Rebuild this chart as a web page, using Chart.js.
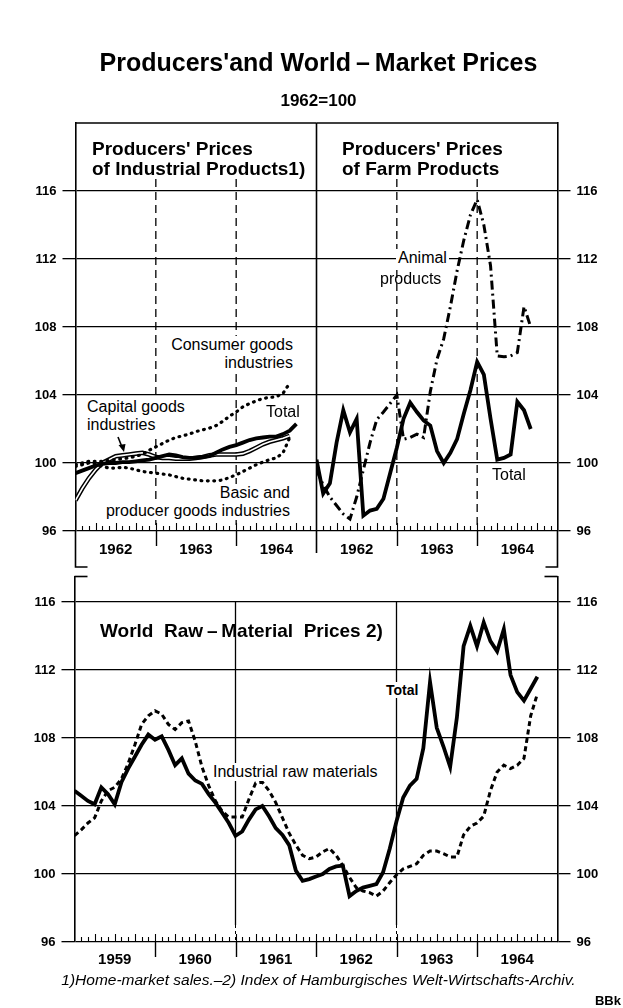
<!DOCTYPE html>
<html>
<head>
<meta charset="utf-8">
<title>Producers' and World-Market Prices</title>
<script src="https://cdn.jsdelivr.net/npm/chart.js@4.4.0/dist/chart.umd.min.js"></script>
<style>
  html, body { margin: 0; padding: 0; background: #fff; }
  #page { position: relative; width: 623px; height: 1008px; overflow: hidden;
          font-family: "Liberation Sans", Arial, sans-serif; color: #000; }
  #page canvas { position: absolute; left: 0; top: 0; }
  .t { position: absolute; white-space: nowrap; line-height: 1; transform: translateY(-50%); }
  .b { font-weight: bold; }
  .n { font-size: 16px; }
  .w { background: #fff; padding: 1px 2px; }
</style>
</head>
<body>
<div id="page">
  <canvas id="cIndustrial" width="623" height="1008"></canvas>
  <canvas id="cFarm" width="623" height="1008"></canvas>
  <canvas id="cWorld" width="623" height="1008"></canvas>

  <!-- titles -->
  <div class="t b" style="left:7px;width:623px;text-align:center;top:62px;font-size:25px">Producers'and World&thinsp;–&thinsp;Market Prices</div>
  <div class="t b" style="left:7px;width:623px;text-align:center;top:100px;font-size:17px">1962=100</div>

  <div class="t b" style="left:92px;top:148px;font-size:19px">Producers' Prices</div>
  <div class="t b" style="left:92px;top:168px;font-size:19px">of Industrial Products1)</div>
  <div class="t b" style="left:342px;top:148px;font-size:19px">Producers' Prices</div>
  <div class="t b" style="left:342px;top:168px;font-size:19px">of Farm Products</div>

  <!-- industrial panel notes -->
  <div class="t n w" style="right:328px;top:345px">Consumer goods</div>
  <div class="t n w" style="right:328px;top:363px">industries</div>
  <div class="t n" style="left:266px;top:412px">Total</div>
  <div class="t n w" style="left:85px;top:407px">Capital goods</div>
  <div class="t n w" style="left:85px;top:425px">industries</div>
  <svg style="position:absolute;left:110px;top:432px" width="20" height="24">
    <path d="M8 5 L12 15" stroke="#000" stroke-width="1.6" fill="none"/>
    <path d="M8.5 13 L15.5 12 L14 20 Z" fill="#000"/>
  </svg>
  <div class="t n w" style="right:331px;top:493px">Basic and</div>
  <div class="t n w" style="right:331px;top:511px">producer goods industries</div>

  <!-- farm panel notes -->
  <div class="t n w" style="left:396px;top:258px">Animal</div>
  <div class="t n" style="left:380px;top:279px">products</div>
  <div class="t n" style="left:492px;top:475px">Total</div>

  <!-- world panel notes -->
  <div class="t b" style="left:100px;top:630px;font-size:19px">World&nbsp; Raw&thinsp;–&thinsp;Material&nbsp; Prices 2)</div>
  <div class="t b w" style="left:384px;top:690px;font-size:14px">Total</div>
  <div class="t n w" style="left:211px;top:772px">Industrial raw materials</div>

  <div class="t" style="left:7px;width:623px;text-align:center;top:980px;font-size:15.5px;font-style:italic">1)Home-market sales.–2) Index of Hamburgisches Welt-Wirtschafts-Archiv.</div>
  <div class="t b" style="right:2px;top:1000px;font-size:13px">BBk</div>
</div>

<script>
const FONT = '"Liberation Sans", Arial, sans-serif';

// axes
const yTicks = [96, 100, 104, 108, 112, 116];
const topYears = ['1962', '1963', '1964'];
const worldYears = ['1959', '1960', '1961', '1962', '1963', '1964'];

// Producers' prices of industrial products, monthly from Jan 1962
const indTotal = [99.4, 99.55, 99.7, 99.85, 99.95, 100.0, 100.0, 100.05, 100.05, 100.1, 100.15, 100.2,
  100.3, 100.4, 100.5, 100.45, 100.35, 100.3, 100.3, 100.35, 100.4, 100.6, 100.8, 100.95,
  101.05, 101.2, 101.35, 101.45, 101.5, 101.55, 101.55, 101.7, 101.9, 102.3];
const indConsumer = [99.9, 100.0, 100.1, 100.1, 100.1, 100.15, 100.2, 100.25, 100.3, 100.4, 100.5, 100.75,
  100.95, 101.15, 101.35, 101.5, 101.6, 101.7, 101.85, 101.95, 102.05, 102.2, 102.45, 102.75,
  103.0, 103.3, 103.5, 103.65, 103.8, 103.85, 103.9, 104.1, 104.7];
const indBasic = [99.8, 99.9, 100.0, 99.95, 99.8, 99.7, 99.7, 99.75, 99.7, 99.6, 99.5, 99.45,
  99.4, 99.35, 99.3, 99.2, 99.1, 99.05, 99.0, 98.95, 98.95, 98.95, 99.0, 99.15,
  99.3, 99.5, 99.7, 99.9, 100.05, 100.2, 100.3, 100.6, 101.5];
const indCapital = [97.8, 98.5, 99.1, 99.6, 100.0, 100.2, 100.4, 100.45, 100.5, 100.55, 100.6, 100.5,
  100.35, 100.3, 100.3, 100.25, 100.25, 100.25, 100.3, 100.35, 100.45, 100.5, 100.5, 100.5,
  100.5, 100.55, 100.7, 100.9, 101.1, 101.25, 101.35, 101.45, 101.6];

// Producers' prices of farm products, monthly from Jan 1962
const farmTotal = [100.2, 98.2, 98.8, 101.2, 103.1, 101.8, 102.6, 96.9, 97.2, 97.3, 97.9, 99.4,
  100.9, 102.6, 103.55, 103.0, 102.5, 102.2, 100.7, 100.0, 100.6, 101.4, 102.9, 104.3,
  105.95, 105.2, 102.6, 100.2, 100.3, 100.5, 103.6, 103.1, 102.0];
const farmAnimal = [99.6, 98.7, 98.0, 97.5, 97.0, 96.7, 98.0, 99.6, 101.2, 102.55, 103.0, 103.5,
  104.0, 101.4, 101.5, 101.7, 101.5, 104.2, 106.1, 107.3, 109.2, 111.3, 113.1, 114.6,
  115.5, 114.0, 111.6, 106.3, 106.25, 106.3, 106.5, 109.2, 108.0];

// World raw-material prices, monthly from Jan 1959
const worldTotal = [104.9, 104.6, 104.3, 104.1, 105.1, 104.7, 104.1, 105.4, 106.2, 106.9, 107.6, 108.2,
  107.9, 108.1, 107.3, 106.4, 106.8, 105.9, 105.5, 105.3, 104.7, 104.2, 103.6, 103.0,
  102.25, 102.5, 103.2, 103.8, 104.0, 103.4, 102.7, 102.3, 101.7, 100.2, 99.6, 99.7,
  99.85, 100.0, 100.3, 100.45, 100.5, 98.7, 99.0, 99.2, 99.3, 99.4, 100.1, 101.5,
  103.1, 104.5, 105.2, 105.6, 107.4, 111.3, 108.6, 107.5, 106.3, 109.2, 113.4, 114.6,
  113.4, 114.8, 113.7, 113.1, 114.4, 111.7, 110.7, 110.2, 110.9, 111.6];
const worldIndustrial = [102.25, 102.6, 103.0, 103.3, 104.3, 104.9, 105.1, 105.6, 106.5, 107.6, 108.8, 109.3,
  109.6, 109.4, 108.8, 108.5, 108.9, 109.0, 107.8, 106.3, 105.2, 104.3, 103.7, 103.35,
  103.35, 103.35, 104.4, 105.35, 105.4, 104.9, 104.2, 103.3, 102.4, 101.7, 101.1, 100.9,
  101.0, 101.3, 101.5, 101.1, 100.5, 99.8, 99.2, 99.0, 98.9, 98.7, 99.0, 99.5,
  99.95, 100.3, 100.45, 100.6, 101.1, 101.35, 101.35, 101.2, 101.0, 101.0, 102.3, 102.8,
  103.0, 103.4, 104.9, 106.0, 106.4, 106.2, 106.4, 106.8, 109.3, 110.6];

const W = 623, H = 1008;
const AXIS_W = 42, X_AXIS_H = 26;

const SOLID = { borderWidth: 3.8 };
const DOTS = { borderWidth: 3.2, borderDash: [0.8, 5.6], borderCapStyle: 'round' };
const DASH = { borderWidth: 3, borderDash: [5, 3.5] };
const DASHDOT = { borderWidth: 3, borderDash: [9, 4, 2, 4] };

function series(values, style, order) {
  return Object.assign({
    data: values.map((v, i) => ({ x: i, y: v })),
    borderColor: '#000', pointRadius: 0, fill: false, tension: 0, order
  }, style);
}

function yAxis(position, max, onArea) {
  return {
    type: 'linear', position, min: 96, max,
    afterBuildTicks: s => { s.ticks = yTicks.map(v => ({ value: v })); },
    afterFit: s => { s.width = AXIS_W; },
    grid: { color: '#000', lineWidth: 1.3, tickLength: 13, drawOnChartArea: onArea },
    border: { display: true, color: '#000', width: 1.6 },
    ticks: { color: '#000', padding: 6, font: { family: FONT, size: 13, weight: 'bold' } }
  };
}

function xAxis(months, years, pad) {
  return {
    type: 'linear', min: 0, max: months,
    afterBuildTicks: s => { s.ticks = years.map((_, i) => ({ value: i * 12 + 6 })); },
    afterFit: s => { s.height = X_AXIS_H; },
    grid: { display: false, drawTicks: false },
    border: { display: false },
    ticks: {
      color: '#000', padding: pad, autoSkip: false, maxRotation: 0,
      font: { family: FONT, size: 15, weight: 'bold' },
      callback: v => years[Math.round((v - 6) / 12)]
    }
  };
}

// month ticks, year separators and the frame pieces of each panel
function panelDeco(cfg) {
  return {
    id: 'panelDeco',
    beforeDatasetsDraw(chart) {
      const { ctx, chartArea: a } = chart;
      const x = chart.scales.x, y = chart.scales.y;
      const seg = (x1, y1, x2, y2) => { ctx.beginPath(); ctx.moveTo(x1, y1); ctx.lineTo(x2, y2); ctx.stroke(); };
      const poly = pts => { ctx.beginPath(); pts.forEach((p, i) => i ? ctx.lineTo(p[0], p[1]) : ctx.moveTo(p[0], p[1])); ctx.stroke(); };
      ctx.save();
      ctx.strokeStyle = '#000';

      // year separators inside the panel
      ctx.lineWidth = cfg.sepWidth;
      ctx.setLineDash(cfg.sepDash);
      const top = y.getPixelForValue(cfg.sepFrom);
      cfg.separators.forEach(m => {
        const p = x.getPixelForValue(m);
        seg(p, top, p, a.bottom - cfg.sepGap);
        if (cfg.sepGap) {
          ctx.save(); ctx.lineWidth = 1; ctx.setLineDash([3, 3]);
          seg(p, a.bottom - cfg.sepGap, p, a.bottom);
          ctx.restore();
        }
      });
      ctx.setLineDash([]);

      // month ticks on the time axis
      for (let m = 1; m < cfg.months; m++) {
        const p = Math.round(x.getPixelForValue(m)) + 0.5;
        if (m % 12 === 0) {
          ctx.lineWidth = 1.4;
          seg(p, a.bottom, p, a.bottom + 15);
        }
        ctx.lineWidth = 1.1;
        seg(p, a.bottom, p, a.bottom - (m % 3 === 0 ? 8 : 5));
      }

      // frame
      ctx.lineWidth = 1.6;
      if (cfg.frame === 'left') {
        seg(a.left, a.top, a.right, a.top);
        seg(a.right, a.top, a.right, a.bottom + 22);
        poly([[a.left, a.bottom], [a.left, a.bottom + 36], [a.left + 12, a.bottom + 36]]);
      } else if (cfg.frame === 'right') {
        seg(a.left, a.top, a.right, a.top);
        poly([[a.right, a.bottom], [a.right, a.bottom + 36], [a.right - 12, a.bottom + 36]]);
      } else {
        seg(a.left, a.top, a.left + 13, a.top);
        seg(a.right, a.top, a.right - 13, a.top);
      }
      ctx.restore();
    }
  };
}

function baseOptions(padding, scales) {
  return {
    responsive: false, animation: false, events: [],
    layout: { padding },
    plugins: { legend: { display: false }, tooltip: { enabled: false } },
    scales
  };
}

// top left: industrial products
new Chart(document.getElementById('cIndustrial'), {
  type: 'line',
  data: {
    datasets: [
      series(indTotal, SOLID, 0),
      series(indConsumer, DOTS, 1),
      series(indBasic, DOTS, 2),
      series(indCapital, { borderWidth: 1.6, borderColor: '#fff' }, 3),
      series(indCapital, { borderWidth: 4.6 }, 4)
    ]
  },
  options: baseOptions(
    { left: 75.5 - AXIS_W, right: W - 316.5, top: 123, bottom: H - 531 - X_AXIS_H },
    { x: xAxis(36, topYears, 10), y: yAxis('left', 120, true) }
  ),
  plugins: [panelDeco({ months: 36, separators: [12, 24], sepFrom: 116.7, sepWidth: 1.3, sepDash: [8, 5], sepGap: 0, frame: 'left' })]
});

// top right: farm products
new Chart(document.getElementById('cFarm'), {
  type: 'line',
  data: {
    datasets: [
      series(farmTotal, SOLID, 0),
      series(farmAnimal, DASHDOT, 1)
    ]
  },
  options: baseOptions(
    { left: 316.5, right: W - 557.5 - AXIS_W, top: 123, bottom: H - 531 - X_AXIS_H },
    { x: xAxis(36, topYears, 10), y: yAxis('right', 120, true) }
  ),
  plugins: [panelDeco({ months: 36, separators: [12, 24], sepFrom: 116.7, sepWidth: 1.3, sepDash: [8, 5], sepGap: 0, frame: 'right' })]
});

// bottom: world raw-material prices
new Chart(document.getElementById('cWorld'), {
  type: 'line',
  data: {
    datasets: [
      series(worldTotal, SOLID, 0),
      series(worldIndustrial, DASH, 1)
    ]
  },
  options: baseOptions(
    { left: 74.5 - AXIS_W, right: W - 557.5 - AXIS_W, top: 576.5, bottom: H - 942 - X_AXIS_H },
    { x: xAxis(72, worldYears, 9), y: yAxis('left', 117.5, true), y2: yAxis('right', 117.5, false) }
  ),
  plugins: [panelDeco({ months: 72, separators: [24, 48], sepFrom: 116, sepWidth: 1.3, sepDash: [], sepGap: 17, frame: 'world' })]
});
</script>
</body>
</html>
